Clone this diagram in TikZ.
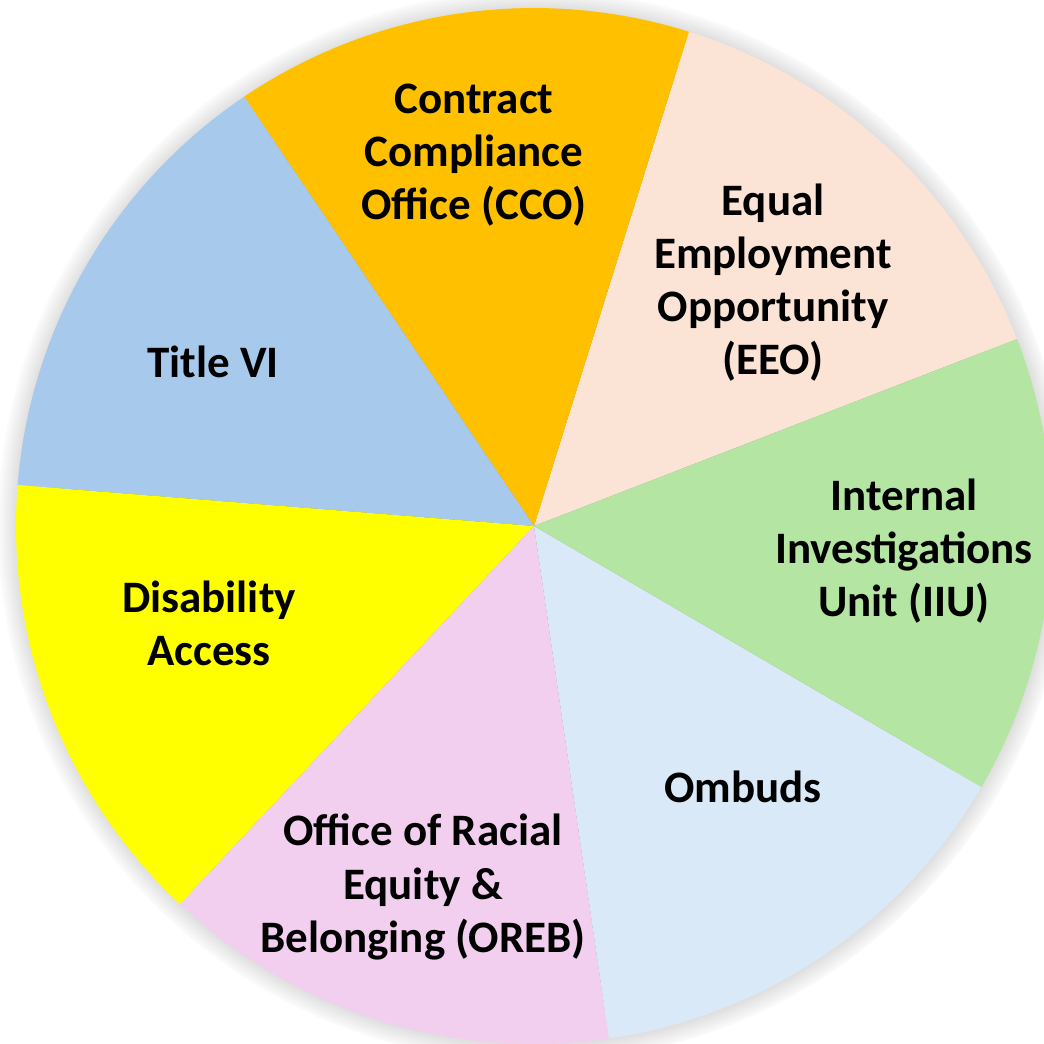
\documentclass[tikz,border=0pt]{standalone}
\usepackage{fontspec}
\setmainfont{Carlito}
\usepackage{tikz}
\usepackage{xcolor}
\usetikzlibrary{shadows}
\definecolor{ccoorange}{RGB}{255, 192, 0}
\definecolor{eeopeach}{RGB}{251, 227, 214}
\definecolor{iiugreen}{RGB}{180, 229, 162}
\definecolor{ombudsblue}{RGB}{218, 233, 248}
\definecolor{orebpink}{RGB}{242, 206, 239}
\definecolor{accessyellow}{RGB}{255, 255, 0}
\definecolor{titleblue}{RGB}{166, 201, 236}
\tikzstyle{slice} = [
    draw=none
]
\tikzstyle{slicetext} = [
    align=center,
    inner sep=0pt,
    text=black,
    font=\bfseries\fontsize{12.8}{15.1}\selectfont
]

\begin{document}
\begin{tikzpicture}
    \useasboundingbox (0,0) rectangle (10.44,10.44);
    \clip (0,0) rectangle (10.44,10.44);
    \coordinate (c) at (5.34,5.18);
    % soft halo under the pie
    \path[circular drop shadow={shadow xshift=0cm, shadow yshift=0cm,
        shadow scale=1.035, fill=black, opacity=0.5}] (c) circle (5.18);
    % seven equal slices, counter-clockwise from the EEO slice
    \foreach \a/\c [count=\i] in {
        21.17/eeopeach,
        72.60/ccoorange,
        124.03/titleblue,
        175.46/accessyellow,
        226.89/orebpink,
        278.31/ombudsblue,
        329.74/iiugreen%
    } {
        \fill[slice, fill=\c] (c) -- ++(\a:5.18)
            arc[start angle=\a, delta angle=51.43, radius=5.18] -- cycle;
    }
    \node[slicetext] (cco) at (4.74,8.89) {Contract\\Compliance\\Office (CCO)};
    \node[slicetext] (eeo) at (7.73,7.61) {Equal\\Employment\\Opportunity\\(EEO)};
    \node[slicetext] (iiu) at (9.04,4.93) {Internal\\Investigations\\Unit (IIU)};
    \node[slicetext] (ombuds) at (7.43,2.57) {Ombuds};
    \node[slicetext] (oreb) at (4.23,1.57) {Office of Racial\\Equity \&\\Belonging (OREB)};
    \node[slicetext] (access) at (2.09,4.21) {Disability\\Access};
    \node[slicetext] (title) at (2.13,6.82) {Title VI};
\end{tikzpicture}
\end{document}
